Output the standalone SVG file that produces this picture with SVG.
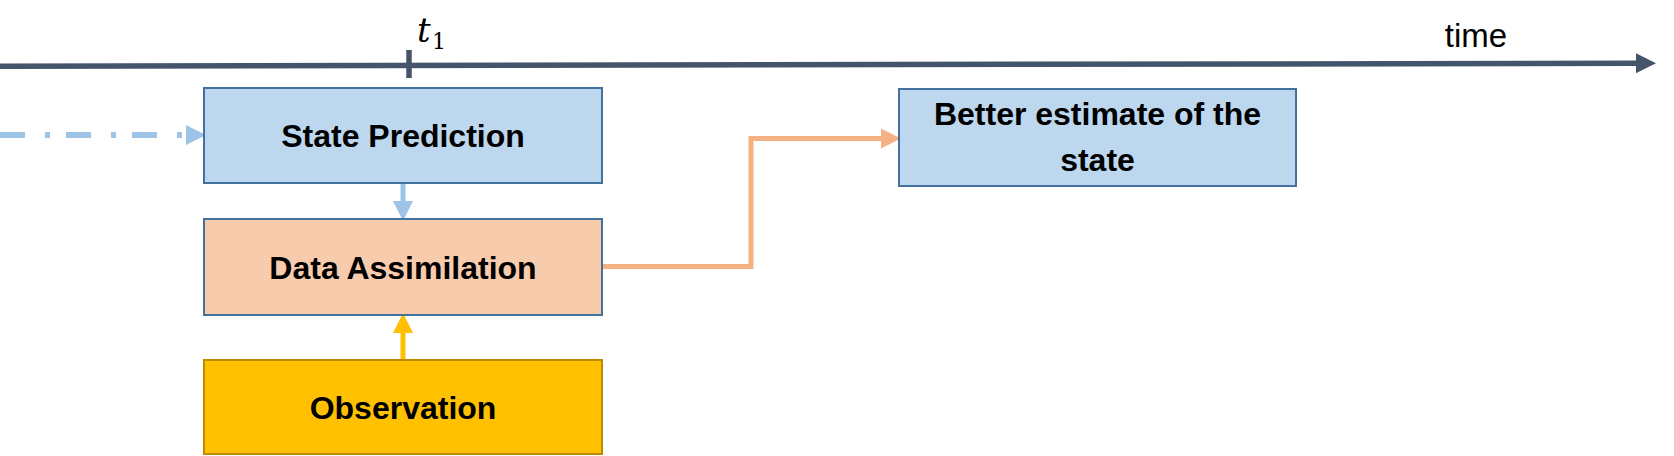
<svg xmlns="http://www.w3.org/2000/svg" width="1674" height="456" viewBox="0 0 1674 456">
<style>
.lbl{font-family:"Liberation Sans",Arial,sans-serif;font-weight:bold;font-size:32px;fill:#000;text-anchor:middle}
.box{stroke-width:2}
.blue{fill:#BDD7EE;stroke:#41719C}
</style>
<defs>
<marker id="hAxis" markerUnits="userSpaceOnUse" markerWidth="20" markerHeight="20" viewBox="0 0 18 18" refX="0" refY="9" orient="auto"><path d="M0,0 L18,9 L0,18 Z" fill="#44546A"/></marker>
<marker id="hBlue" markerUnits="userSpaceOnUse" markerWidth="20" markerHeight="20" viewBox="0 0 18 18" refX="0" refY="9" orient="auto"><path d="M0,0 L18,9 L0,18 Z" fill="#9DC3E6"/></marker>
<marker id="hOrange" markerUnits="userSpaceOnUse" markerWidth="20" markerHeight="20" viewBox="0 0 18 18" refX="0" refY="9" orient="auto"><path d="M0,0 L18,9 L0,18 Z" fill="#F4B183"/></marker>
<marker id="hGold" markerUnits="userSpaceOnUse" markerWidth="20" markerHeight="20" viewBox="0 0 18 18" refX="0" refY="9" orient="auto"><path d="M0,0 L18,9 L0,18 Z" fill="#FFC000"/></marker>
</defs>
<g id="timeline">
<line x1="0" y1="66.3" x2="1636" y2="63.2" stroke="#44546A" stroke-width="5.5" marker-end="url(#hAxis)"/>
<line x1="409" y1="50" x2="409" y2="78" stroke="#44546A" stroke-width="5.5"/>
<text x="417" y="41.5" font-family="DejaVu Serif,serif" font-style="italic" font-size="34" fill="#000">t</text>
<text x="432" y="49" font-family="DejaVu Serif,serif" font-size="22" fill="#000">1</text>
<text x="1476" y="47" font-family="Liberation Sans,Arial,sans-serif" font-size="33" fill="#000" text-anchor="middle">time</text>
</g>
<g id="connectors">
<line x1="0" y1="135" x2="186" y2="135" stroke="#9DC3E6" stroke-width="6" stroke-dasharray="25 20 5 16" marker-end="url(#hBlue)"/>
<line x1="403" y1="184" x2="403" y2="201" stroke="#9DC3E6" stroke-width="5" marker-end="url(#hBlue)"/>
<line x1="403" y1="359" x2="403" y2="333" stroke="#FFC000" stroke-width="5" marker-end="url(#hGold)"/>
<polyline points="603,266.5 751,266.5 751,138.5 881,138.5" fill="none" stroke="#F4B183" stroke-width="5" marker-end="url(#hOrange)"/>
</g>
<g id="state-prediction">
<rect class="box blue" x="204" y="88" width="398" height="95"/>
<text class="lbl" x="403" y="147">State Prediction</text>
</g>
<g id="data-assimilation">
<rect class="box" x="204" y="219" width="398" height="96" fill="#F8CBAD" stroke="#41719C"/>
<text class="lbl" x="403" y="279">Data Assimilation</text>
</g>
<g id="observation">
<rect class="box" x="204" y="360" width="398" height="94" fill="#FFC000" stroke="#BC8C00"/>
<text class="lbl" x="403" y="419">Observation</text>
</g>
<g id="better-estimate">
<rect class="box blue" x="899" y="89" width="397" height="97"/>
<text class="lbl" x="1097.5" y="125">Better estimate of the</text>
<text class="lbl" x="1097.5" y="171">state</text>
</g>
</svg>
